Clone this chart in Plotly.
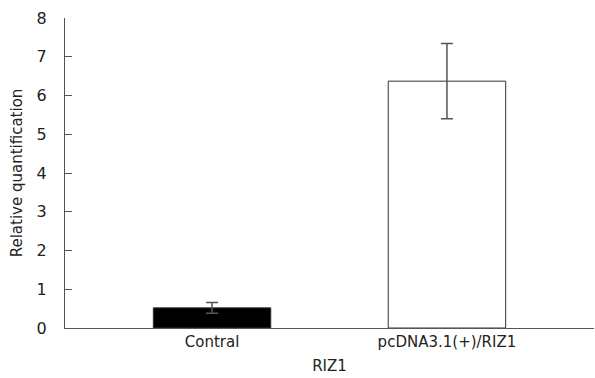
import plotly.graph_objects as go

categories = ["Contral", "pcDNA3.1(+)/RIZ1"]
values = [0.52, 6.37]
errors = [0.14, 0.97]
bar_colors = ["#000000", "#ffffff"]
y_ticks = [0, 1, 2, 3, 4, 5, 6, 7, 8]

fig = go.Figure()
fig.add_trace(go.Bar(
    x=[0, 1], y=values, width=0.5,
    marker=dict(color=bar_colors, line=dict(color="#333333", width=1)),
    error_y=dict(type="data", array=errors, visible=True, color="#555555", thickness=1.5, width=6),
))

font = dict(family="DejaVu Sans", size=15, color="#222222")
fig.update_layout(
    width=595, height=378,
    margin=dict(l=65, r=1, t=18, b=50),
    paper_bgcolor="white", plot_bgcolor="white",
    font=font, showlegend=False,
    xaxis=dict(
        range=[-0.626, 1.626], tickmode="array", tickvals=[0, 1], ticktext=categories,
        showline=True, linecolor="#555555", linewidth=1, ticks="", showgrid=False, zeroline=False,
        tickfont=dict(size=15), automargin=False,
        title=dict(text="RIZ1", standoff=10, font=dict(size=15)),
    ),
    yaxis=dict(
        range=[0, 8], tickvals=y_ticks, showline=True, linecolor="#555555", linewidth=1,
        ticks="inside", ticklen=7, tickcolor="#555555", showgrid=False, zeroline=False,
        tickfont=dict(size=16), automargin=False, ticklabelstandoff=14,
        title=dict(text="Relative quantification", standoff=10, font=dict(size=15)),
    ),
)
fig.write_html("out.html", config={"displayModeBar": False},
               post_script="document.body.style.margin='0';")
